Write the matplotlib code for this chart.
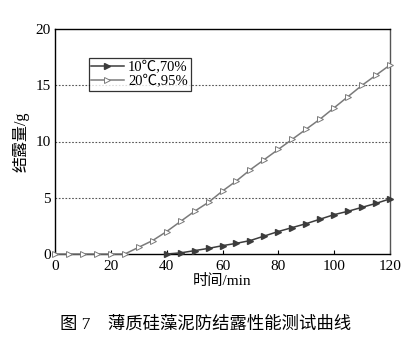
import numpy as np
import matplotlib.pyplot as plt

plt.rcParams['font.family'] = ['Liberation Serif', 'Noto Sans CJK SC']

time_10 = np.arange(40, 121, 5)
# 10℃,70%
cond_10 = [0, 0.1, 0.3, 0.5, 0.74, 0.95, 1.2, 1.6,
           2.0, 2.35, 2.7, 3.1, 3.5, 3.8, 4.15, 4.5, 4.9]
time_20 = np.arange(0, 121, 5)
# 20℃,95%
cond_20 = [0, 0, 0, 0, 0, 0, 0.6, 1.2, 2.0, 2.9, 3.8, 4.6, 5.6, 6.5, 7.5, 8.4,
           9.3, 10.2, 11.1, 12.0, 13.0, 14.0, 15.0, 15.9, 16.8]
labels = ['10℃,70%', '20℃,95%']

fig = plt.figure(figsize=(4.19, 3.45), dpi=100)
ax = fig.add_axes([55/419, 1-254/345, 335/419, 225/345])

ax.plot(time_10, cond_10, color='#3c3c3c', lw=1.1, marker='>', ms=4.8,
        mfc='#3c3c3c', mec='#3c3c3c', label=labels[0], zorder=3, clip_on=False)
ax.plot(time_20, cond_20, color='#7a7a7a', lw=1.1, marker='>', ms=4.8,
        mfc='white', mec='#7a7a7a', mew=0.7, label=labels[1], zorder=3, clip_on=False)

for v in [5, 10, 15]:
    ax.axhline(v, color='#555555', ls=(0, (1.5, 1.5)), lw=0.8, zorder=1)

ax.set_xlim(0, 120)
ax.set_ylim(0, 20)
ax.set_xticks([0, 20, 40, 60, 80, 100, 120])
ax.set_yticks([0, 5, 10, 15, 20])
ax.tick_params(direction='in', length=3, labelsize=11, pad=4)
ax.tick_params(axis='y', length=0, pad=3)
for s in ax.spines.values():
    s.set_linewidth(1.0)
ax.spines['right'].set_color('#555555')

ax.set_xlabel('时间/min', fontsize=11, labelpad=1)
ax.set_ylabel('结露量/g', fontsize=11.5, labelpad=4)

leg = ax.legend(loc='upper left', bbox_to_anchor=(0.1, 0.87), fontsize=10.5,
                frameon=True, fancybox=False, edgecolor='black',
                handlelength=2.2, handletextpad=0.3, borderpad=0.2,
                labelspacing=0.05, borderaxespad=0)
leg.get_frame().set_linewidth(0.9)

fig.text(0.49, 1-325/345, '图 7    薄质硅藻泥防结露性能测试曲线', ha='center',
         va='center', fontsize=12.5)

fig.savefig('out.png', dpi=100)
